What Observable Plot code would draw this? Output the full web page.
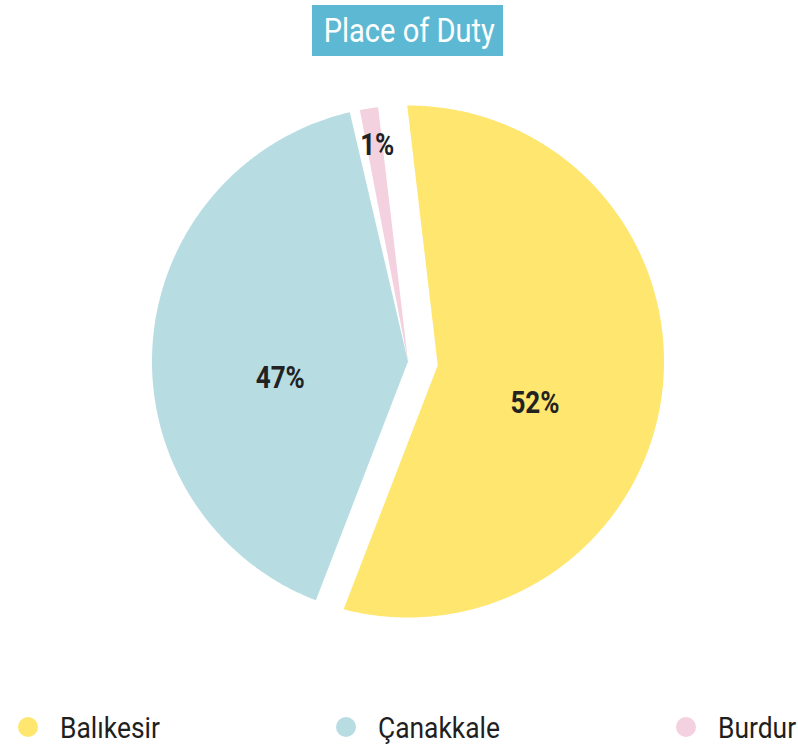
<!DOCTYPE html>
<html>
<head>
<meta charset="utf-8">
<script src="https://cdn.jsdelivr.net/npm/d3@7"></script>
<script src="https://cdn.jsdelivr.net/npm/@observablehq/plot@0.6"></script>
<style>
  html, body { margin: 0; padding: 0; background: #fff; }
  #page { position: relative; width: 798px; height: 749px; overflow: hidden; font-family: "Roboto", sans-serif; }
  #title { position: absolute; left: 312px; top: 5px; width: 191px; height: 51px; line-height: 51px;
           background: #5DB9D3; color: #fff; text-align: center; font-size: 33px; white-space: nowrap; }
  #title span { display: inline-block; transform: scaleX(0.88); transform-origin: center; }
  #chart { position: absolute; left: 0; top: 60px; }
  #legend { position: absolute; left: 0; top: 709px; width: 798px; height: 36px; box-sizing: border-box;
            padding: 0 2px 0 18px; display: flex; justify-content: space-between; align-items: center; }
  .item { display: flex; align-items: center; font-size: 30px; color: #1f1f1f; white-space: nowrap; }
  .item .txt { display: inline-block; transform: scaleX(0.88); transform-origin: left center; }
  .dot { width: 20px; height: 20px; border-radius: 50%; margin-right: 22px; }
</style>
</head>
<body>
<div id="page">
  <div id="title"><span>Place of Duty</span></div>
  <div id="chart"></div>
  <div id="legend"></div>
</div>
<script>
// ---- data ----
const categories = ["Balıkesir", "Çanakkale", "Burdur"];
const shares = [57.72, 40.81, 1.47];       // share of the circle as drawn (%)
const labels = ["52%", "47%", "1%"];       // printed labels
const colors = ["#FFE66E", "#B7DDE3", "#F4D1DE"];

// ---- styling / layout constants ----
const startDeg = -6.7;          // first slice starts here (clockwise from 12 o'clock)
const padDeg = 2.3;             // gap between adjacent non-pulled slices
const pulled = "Balıkesir";     // slice pulled out
const pullPx = 30;
const Rpx = 256;                // pie radius in px
const ext = 1.05;               // domain half-size in radius units
const textSqueeze = 0.84;       // condensed look for the labels

const deg = Math.PI / 180;
const n = categories.length;
let acc = startDeg * deg;
const slices = categories.map((c, i) => {
  const a0 = acc; acc += shares[i] / 100 * 2 * Math.PI;
  return {category: c, label: labels[i], share: shares[i], a0, a1: acc, pulled: c === pulled};
});
slices.forEach((s, i) => {
  const prev = slices[(i + n - 1) % n], next = slices[(i + 1) % n];
  s.v0 = s.a0 + (!s.pulled && !prev.pulled ? padDeg * deg / 2 : 0);
  s.v1 = s.a1 - (!s.pulled && !next.pulled ? padDeg * deg / 2 : 0);
  const m = (s.v0 + s.v1) / 2;
  const off = s.pulled ? pullPx / Rpx : 0;
  s.mid = m;
  s.ox = off * Math.sin(m); s.oy = -off * Math.cos(m);
});

function ring(s) {
  const pts = [[s.ox, s.oy]];
  const steps = Math.max(4, Math.ceil((s.v1 - s.v0) / (0.5 * deg)));
  for (let k = 0; k <= steps; k++) {
    const t = s.v0 + (s.v1 - s.v0) * k / steps;
    const ux = Math.sin(t), uy = -Math.cos(t);
    const b = s.ox * ux + s.oy * uy;
    const c = s.ox * s.ox + s.oy * s.oy - 1;
    const d = -b + Math.sqrt(b * b - c);
    pts.push([s.ox + d * ux, s.oy + d * uy]);
  }
  pts.push([s.ox, s.oy]);
  return pts;
}

const features = slices.map(s => ({
  type: "Feature",
  properties: {category: s.category},
  geometry: {type: "Polygon", coordinates: [ring(s)]}
}));

const labelData = slices.map(s => {
  const small = s.share < 5;
  const r = small ? 0.95 : 0.5;
  const a = small ? s.mid + 1.5 * deg : s.mid;
  return {label: s.label, x: r * Math.sin(a), y: -r * Math.cos(a)};
});

// frame: square of side 2*ext*R centred on the pie centre (407.5, 301 in svg)
const W = 798, H = 640, cx = 407.5, cy = 301, half = ext * Rpx;

const chart = Plot.plot({
  width: W, height: H,
  marginLeft: cx - half, marginRight: W - cx - half,
  marginTop: cy - half, marginBottom: H - cy - half,
  projection: {type: "identity", domain: {type: "MultiPoint", coordinates: [[-ext, -ext], [ext, ext]]}},
  color: {domain: categories, range: colors},
  marks: [
    Plot.geo(features, {fill: d => d.properties.category, stroke: "none"}),
    Plot.text(labelData, {
      x: "x", y: "y", text: "label", lineAnchor: "top", dy: 13,
      fontSize: 31, fontWeight: "bold", fill: "#222", fontFamily: "Roboto, sans-serif"
    })
  ]
});
document.getElementById("chart").appendChild(chart);
chart.querySelectorAll('g[aria-label="text"] text').forEach(t => {
  const L = t.getComputedTextLength();
  t.setAttribute("textLength", L * textSqueeze);
  t.setAttribute("lengthAdjust", "spacingAndGlyphs");
});

const legend = document.getElementById("legend");
categories.forEach((c, i) => {
  const item = document.createElement("div");
  item.className = "item";
  const dot = document.createElement("span");
  dot.className = "dot";
  dot.style.background = colors[i];
  const txt = document.createElement("span");
  txt.className = "txt";
  txt.textContent = c;
  item.appendChild(dot); item.appendChild(txt);
  legend.appendChild(item);
  txt.style.marginRight = (-txt.offsetWidth * (1 - 0.88)) + "px";
});
</script>
</body>
</html>
